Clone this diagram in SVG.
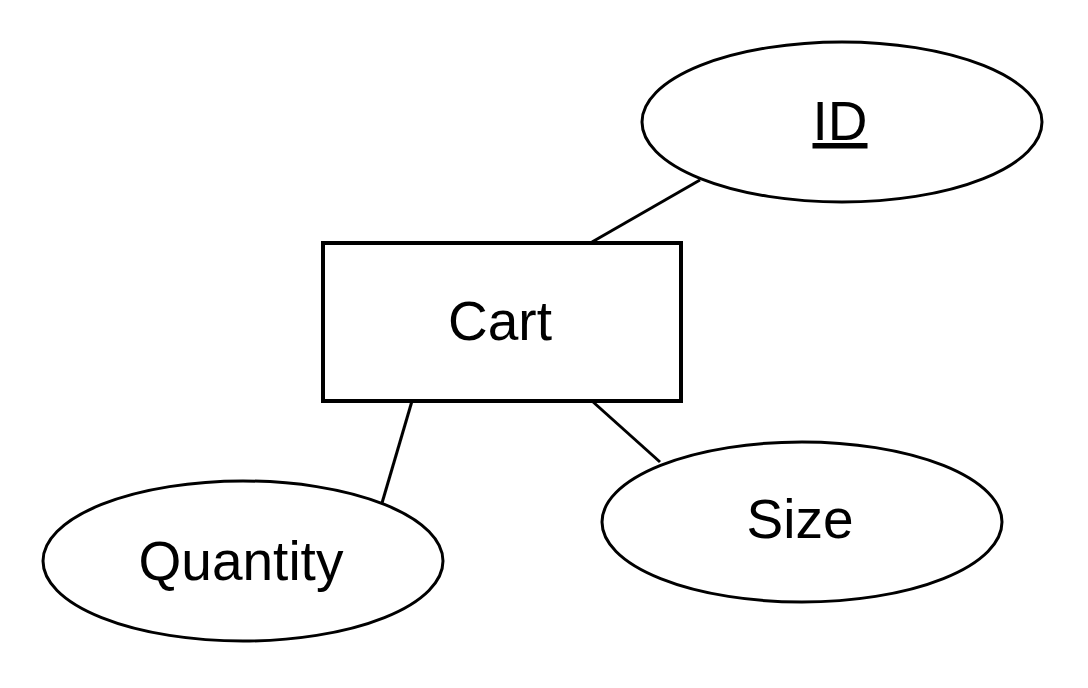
<svg xmlns="http://www.w3.org/2000/svg" width="1088" height="688" viewBox="0 0 1088 688">
<style>
.shape{fill:#fff;stroke:#000;stroke-width:3}
.lbl{font-family:"Liberation Sans",Arial,sans-serif;font-size:55px;fill:#000;text-anchor:middle}
.conn{stroke:#000;stroke-width:3;fill:none}
</style>
<rect width="1088" height="688" fill="#fff"/>
<g id="connectors">
<line class="conn" x1="592" y1="242" x2="700" y2="180"/>
<line class="conn" x1="592" y1="401" x2="660" y2="462"/>
<line class="conn" x1="412" y1="401" x2="382" y2="503"/>
</g>
<g id="cart">
<rect class="shape" x="323" y="243" width="358" height="158" style="stroke-width:4"/>
<text class="lbl" x="500" y="340">Cart</text>
</g>
<g id="id">
<ellipse class="shape" cx="842" cy="122" rx="200" ry="80"/>
<text class="lbl" x="840" y="140" text-decoration="underline">ID</text>
</g>
<g id="size">
<ellipse class="shape" cx="802" cy="522" rx="200" ry="80"/>
<text class="lbl" x="800" y="538">Size</text>
</g>
<g id="quantity">
<ellipse class="shape" cx="243" cy="561" rx="200" ry="80"/>
<text class="lbl" x="241" y="580">Quantity</text>
</g>
</svg>
